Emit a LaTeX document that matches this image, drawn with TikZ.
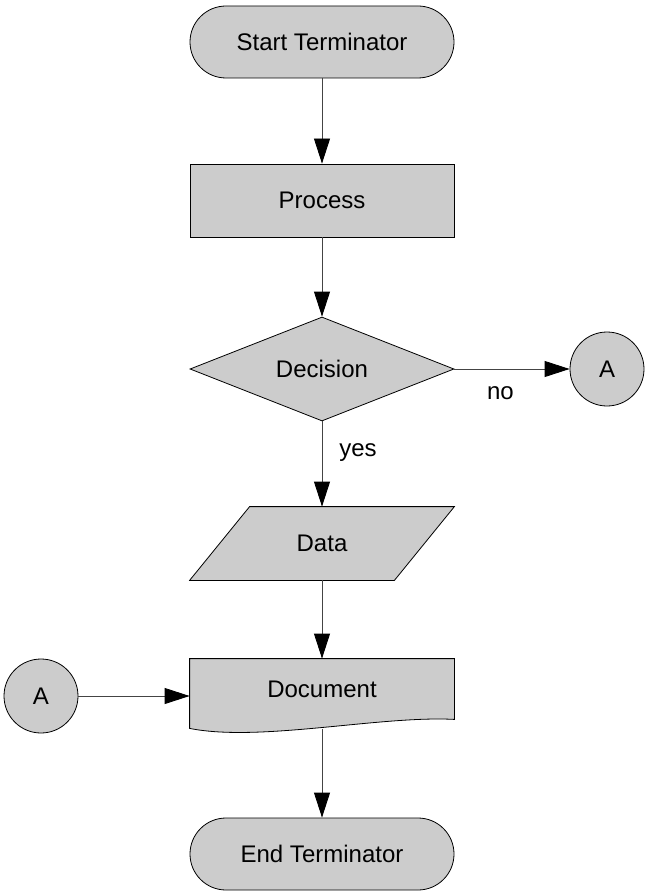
\documentclass[tikz,border=0pt]{standalone}
\usepackage{fontspec}
\setmainfont{Liberation Sans}
\usetikzlibrary{arrows.meta}
\usetikzlibrary{shapes.geometric}
\usetikzlibrary{backgrounds}
\definecolor{boxgray}{HTML}{CCCCCC}
\definecolor{linegray}{HTML}{444444}

\begin{document}
\begin{tikzpicture}[x=1pt, y=-1pt,
  box/.style={fill=boxgray, draw=black, line width=0.8pt, inner sep=0pt, minimum width=264pt, font=\fontsize{24}{28}\selectfont},
  terminator/.style={box, rounded corners=36pt, minimum height=72pt},
  process/.style={box, minimum height=73pt},
  decision/.style={box, diamond, aspect=2.54, minimum height=104pt},
  io/.style={box, draw=none, fill=none, minimum height=73pt},
  doc/.style={box, draw=none, fill=none, minimum height=60pt},
  connector/.style={box, circle, minimum width=74pt},
  lbl/.style={font=\fontsize{24}{28}\selectfont, inner sep=0pt},
  >={Triangle[length=25pt,width=16pt,black]}]
\useasboundingbox (0,0) rectangle (648,896);

\node[terminator] (start) at (322,42) {Start Terminator};
\node[process] (proc) at (322,200.5) {Process};
\node[decision] (dec) at (322,369) {Decision};
\node[connector] (a1) at (607,369) {A};
\node[io] (data) at (322,543.5) {Data};
\node[doc] (docu) at (322,689) {Document};
\node[connector] (a2) at (41,696) {A};
\node[terminator] (end) at (322,854) {End Terminator};

% outlines that are no plain node shapes
\begin{scope}[on background layer]
\draw[fill=boxgray, line width=0.8pt] ([xshift=60pt]data.north west) -- (data.north east)
  -- ([xshift=-60pt]data.south east) -- (data.south west) -- cycle;
\draw[fill=boxgray, line width=0.8pt] (docu.north west) -- (docu.north east) -- (docu.south east)
  .. controls ([xshift=-74pt,yshift=4pt]docu.south east) and ([xshift=70pt,yshift=-23pt]docu.south west)
  .. ([yshift=-9pt]docu.south west) -- cycle;
\end{scope}

\draw[->, draw=linegray, line width=0.8pt] (start) -- (proc);
\draw[->, draw=linegray, line width=0.8pt] (proc) -- (dec);
\draw[->, draw=linegray, line width=0.8pt] (dec) -- node[lbl, pos=0.4, yshift=-24pt] {no} (a1);
\draw[->, draw=linegray, line width=0.8pt] (dec) -- node[lbl, pos=0.36, xshift=36pt] {yes} (data);
\draw[->, draw=linegray, line width=0.8pt] (data) -- (docu);
\draw[->, draw=linegray, line width=0.8pt] (a2) -- (a2 -| docu.west);
\draw[->, draw=linegray, line width=0.8pt] ([yshift=-10pt]docu.south) -- (end);
\end{tikzpicture}
\end{document}
